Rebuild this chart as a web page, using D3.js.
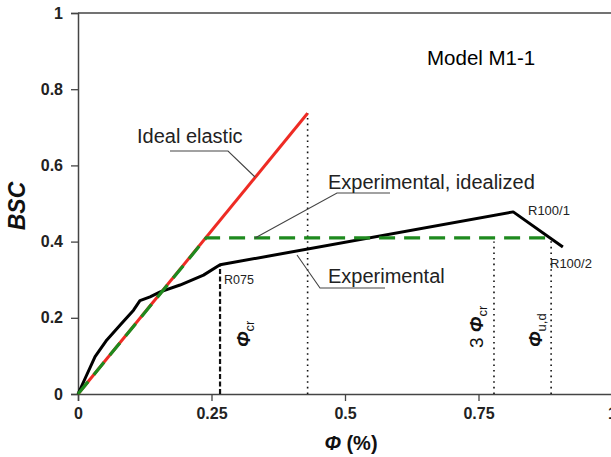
<!DOCTYPE html>
<html>
<head>
<meta charset="utf-8">
<script src="https://cdn.jsdelivr.net/npm/d3@7"></script>
<style>
  body { margin: 0; background: #fff; }
  svg { display: block; font-family: "Liberation Sans", Arial, sans-serif; }
</style>
</head>
<body>
<div class="grafico"></div>
<script>
var width = 611, height = 457;

// values (phi in %, BSC)
var elastic = [[0, 0], [0.43, 0.737]];
var idealized = [[0, 0], [0.24, 0.41], [0.888, 0.41]];
var experimental = [[0, 0], [0.032, 0.098], [0.054, 0.142], [0.079, 0.181], [0.104, 0.22],
  [0.116, 0.245], [0.135, 0.255], [0.154, 0.268], [0.191, 0.286], [0.235, 0.312],
  [0.266, 0.339], [0.815, 0.478], [0.908, 0.386]];
var markerX = [0.266, 0.43, 0.779, 0.886];
var markerTop = [0.339, 0.737, 0.40, 0.41];
var xTicks = [0, 0.25, 0.5, 0.75, 1];
var yTicks = [0, 0.2, 0.4, 0.6, 0.8, 1];

var x = d3.scaleLinear().domain([0, 1]).range([78, 612]);
var y = d3.scaleLinear().domain([0, 1]).range([394, 13]);

var svg = d3.select(".grafico").append("svg")
  .attr("width", width)
  .attr("height", height);

// axes
var xAxis = svg.append("g")
  .attr("transform", "translate(0," + y(0) + ")")
  .call(d3.axisBottom(x).tickValues(xTicks).tickSize(7).tickPadding(7)
    .tickFormat(function (d) { return d3.format("")(d); }));
var yAxis = svg.append("g")
  .attr("transform", "translate(" + x(0) + ",0)")
  .call(d3.axisLeft(y).tickValues(yTicks).tickSize(7).tickPadding(8)
    .tickFormat(function (d) { return d3.format("")(d); }));
[xAxis, yAxis].forEach(function (a) {
  a.select(".domain").attr("stroke", "#444").attr("stroke-width", 1.5);
  a.selectAll(".tick line").attr("stroke", "#444").attr("stroke-width", 1.3);
  a.selectAll(".tick text").attr("fill", "#222").style("font-size", "16px")
    .style("font-weight", "bold").style("font-family", "Liberation Sans, Arial, sans-serif");
});
// top frame
svg.append("line")
  .attr("x1", x(0)).attr("x2", x(1))
  .attr("y1", y(1)).attr("y2", y(1))
  .attr("stroke", "#444").attr("stroke-width", 1.3);

// vertical reference lines
svg.append("g").selectAll("line")
  .data(markerX)
  .enter().append("line")
  .attr("x1", function (d) { return x(d); })
  .attr("x2", function (d) { return x(d); })
  .attr("y1", y(0))
  .attr("y2", function (d, i) { return y(markerTop[i]); })
  .attr("stroke", "#111")
  .attr("stroke-width", function (d, i) { return i == 0 ? 2.2 : 1.6; })
  .attr("stroke-dasharray", function (d, i) { return i == 0 ? "5,2.5" : "1.6,4"; });

var line = d3.line()
  .x(function (d) { return x(d[0]); })
  .y(function (d) { return y(d[1]); });

svg.append("path")
  .attr("d", line(elastic))
  .attr("fill", "none")
  .attr("stroke", "#ee2b24")
  .attr("stroke-width", 3);

svg.append("path")
  .attr("d", line(experimental))
  .attr("fill", "none")
  .attr("stroke", "#000")
  .attr("stroke-width", 3)
  .attr("stroke-linejoin", "round");

svg.append("path")
  .attr("d", line(idealized))
  .attr("fill", "none")
  .attr("stroke", "#1e8a1e")
  .attr("stroke-width", 3.2)
  .attr("stroke-dasharray", "16,9");

// leader lines
var leaders = [
  [[170, 151], [228, 151], [255, 177]],
  [[390, 193], [337, 193], [255, 238]],
  [[385, 288], [320, 288], [297, 255]]
];
svg.append("g").selectAll("path")
  .data(leaders)
  .enter().append("path")
  .attr("d", function (d) { return d3.line()(d); })
  .attr("fill", "none")
  .attr("stroke", "#444")
  .attr("stroke-width", 1.1);

function label(t, px, py, size) {
  return svg.append("text")
    .attr("x", px).attr("y", py)
    .attr("fill", "#222")
    .style("font-size", size + "px")
    .text(t);
}
label("Ideal elastic", 137, 143, 20);
label("Experimental, idealized", 328, 189, 20);
label("Experimental", 328, 283, 20);
label("R075", 224, 284, 12.5);
label("R100/1", 528, 215, 13);
label("R100/2", 550, 268, 13);
label("Model M1-1", 427, 65, 20.5).attr("fill", "#000");

// rotated phi labels
function phiLabel(pre, sub, px, py) {
  var t = svg.append("text")
    .attr("transform", "translate(" + px + "," + py + ") rotate(-90)")
    .attr("fill", "#111")
    .style("font-size", "19px");
  if (pre) t.append("tspan").text(pre);
  t.append("tspan").style("font-style", "italic").style("font-weight", "bold").text("Φ");
  t.append("tspan").attr("dy", 4).style("font-size", "13px").text(sub);
}
phiLabel("", "cr", 250, 347);
phiLabel("3 ", "cr", 483, 348);
phiLabel("", "u,d", 542, 347);

// axis titles
var xt = svg.append("text")
  .attr("x", 351).attr("y", 450)
  .attr("text-anchor", "middle")
  .attr("fill", "#111")
  .style("font-size", "20px")
  .style("font-weight", "bold");
xt.append("tspan").style("font-style", "italic").text("Φ");
xt.append("tspan").text(" (%)");

svg.append("text")
  .attr("transform", "translate(25,206) rotate(-90)")
  .attr("text-anchor", "middle")
  .attr("fill", "#111")
  .style("font-size", "23px")
  .style("font-weight", "bold")
  .style("font-style", "italic")
  .text("BSC");
</script>
</body>
</html>
